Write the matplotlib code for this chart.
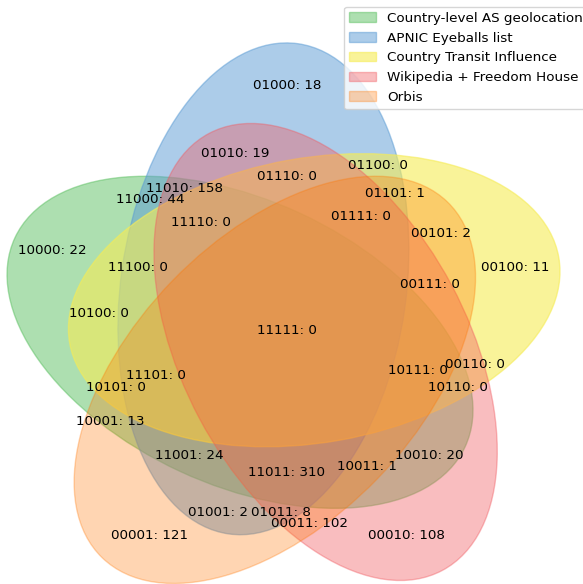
import matplotlib
matplotlib.use("Agg")
import matplotlib.pyplot as plt
from matplotlib import patches

# ---- data ----
set_names = ["Country-level AS geolocation", "APNIC Eyeballs list",
             "Country Transit Influence", "Wikipedia + Freedom House", "Orbis"]
region_keys = ["00001", "00010", "00011", "00100", "00101", "00110", "00111",
               "01000", "01001", "01010", "01011", "01100", "01101", "01110",
               "01111", "10000", "10001", "10010", "10011", "10100", "10101",
               "10110", "10111", "11000", "11001", "11010", "11011", "11100",
               "11101", "11110", "11111"]
region_counts = [121, 108, 102, 11, 2, 0, 0,
                 18, 2, 19, 8, 0, 1, 0,
                 0, 22, 13, 20, 1, 0, 0,
                 0, 0, 44, 24, 158, 310, 0,
                 0, 0, 0]

# ---- layout (pyvenn 5-set geometry) ----
ellipses = [  # x, y, width, height, angle
    (0.428, 0.449, 0.87, 0.50, 155.0),
    (0.469, 0.543, 0.87, 0.50, 82.0),
    (0.558, 0.523, 0.87, 0.50, 10.0),
    (0.578, 0.432, 0.87, 0.50, 118.0),
    (0.489, 0.383, 0.87, 0.50, 46.0),
]
text_pos = {
    "00001": (0.27, 0.11), "00010": (0.72, 0.11), "00011": (0.55, 0.13),
    "00100": (0.91, 0.58), "00101": (0.78, 0.64), "00110": (0.84, 0.41),
    "00111": (0.76, 0.55), "01000": (0.51, 0.90), "01001": (0.39, 0.15),
    "01010": (0.42, 0.78), "01011": (0.50, 0.15), "01100": (0.67, 0.76),
    "01101": (0.70, 0.71), "01110": (0.51, 0.74), "01111": (0.64, 0.67),
    "10000": (0.10, 0.61), "10001": (0.20, 0.31), "10010": (0.76, 0.25),
    "10011": (0.65, 0.23), "10100": (0.18, 0.50), "10101": (0.21, 0.37),
    "10110": (0.81, 0.37), "10111": (0.74, 0.40), "11000": (0.27, 0.70),
    "11001": (0.34, 0.25), "11010": (0.33, 0.72), "11011": (0.51, 0.22),
    "11100": (0.25, 0.58), "11101": (0.28, 0.39), "11110": (0.36, 0.66),
    "11111": (0.51, 0.47),
}
colors = [
    (92 / 255, 192 / 255, 98 / 255, 0.5),
    (90 / 255, 155 / 255, 212 / 255, 0.5),
    (246 / 255, 236 / 255, 86 / 255, 0.6),
    (241 / 255, 90 / 255, 96 / 255, 0.4),
    (255 / 255, 117 / 255, 0 / 255, 0.3),
]

FS = 9.7
fig = plt.figure(figsize=(5.83, 5.84), dpi=100)
ax = fig.add_axes([0, 0, 1, 1])
ax.set_axis_off()
ax.set_xlim(0.0075, 1.0289)
ax.set_ylim(0.0242, 1.0506)

handles = []
for (x, y, w, h, a), c in zip(ellipses, colors):
    e = patches.Ellipse(xy=(x, y), width=w, height=h, angle=a, color=c)
    ax.add_patch(e)
    handles.append(e)

for key, cnt in zip(region_keys, region_counts):
    x, y = text_pos[key]
    ax.text(x, y, f"{key}: {cnt}", ha="center", va="center",
            fontsize=FS, color="black")

fig.legend(handles, set_names, loc="upper left",
           bbox_to_anchor=(344 / 583, 1 - 6.5 / 584),
           bbox_transform=fig.transFigure, borderaxespad=0,
           fontsize=FS, fancybox=True)

fig.savefig("out.png", dpi=100)
